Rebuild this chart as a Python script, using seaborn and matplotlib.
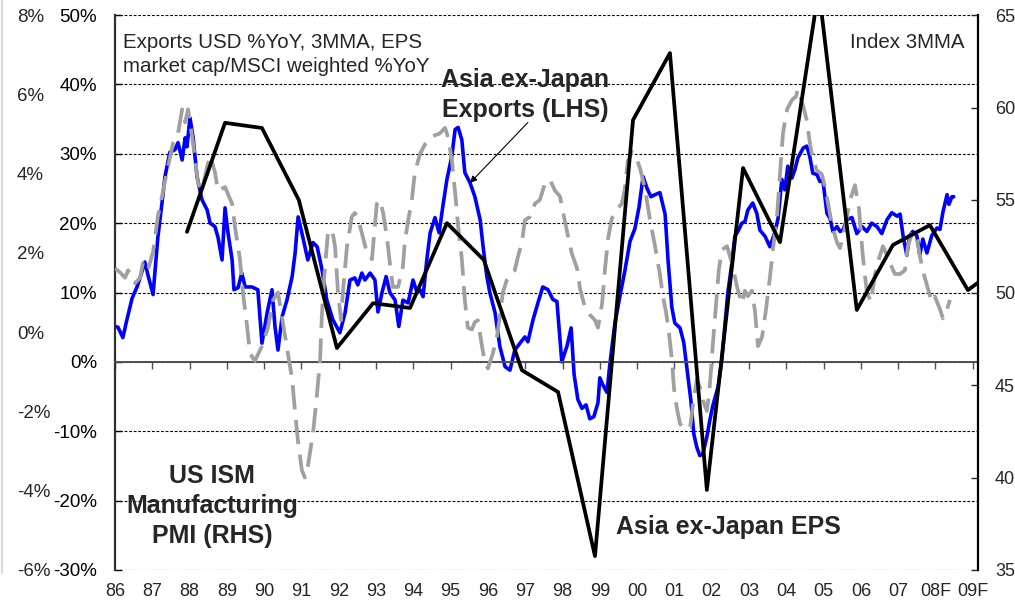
import matplotlib
matplotlib.use("Agg")
import matplotlib.pyplot as plt
import seaborn as sns
from matplotlib.ticker import FuncFormatter

# ---------------- data ----------------
# Asia ex-Japan exports, USD %YoY 3MMA (inner left axis)
exports_t = [1986.00, 1986.08, 1986.21, 1986.32, 1986.46, 1986.59, 1986.67, 1986.80, 1986.88, 1987.02,
             1987.15, 1987.26, 1987.34, 1987.47, 1987.61, 1987.69, 1987.80, 1987.88, 1987.93, 1988.01,
             1988.09, 1988.20, 1988.33, 1988.47, 1988.55, 1988.68, 1988.76, 1988.87, 1988.95, 1989.03,
             1989.14, 1989.19, 1989.30, 1989.40, 1989.49, 1989.67, 1989.83, 1989.94, 1990.08, 1990.21,
             1990.29, 1990.37, 1990.48, 1990.61, 1990.75, 1990.83, 1990.91, 1991.01, 1991.17, 1991.31,
             1991.42, 1991.55, 1991.68, 1991.84, 1992.03, 1992.17, 1992.30, 1992.43, 1992.51, 1992.62,
             1992.70, 1992.84, 1992.97, 1993.05, 1993.16, 1993.27, 1993.37, 1993.51, 1993.61, 1993.72,
             1993.86, 1993.99, 1994.10, 1994.18, 1994.26, 1994.36, 1994.45, 1994.58, 1994.69, 1994.79,
             1994.90, 1995.03, 1995.12, 1995.20, 1995.30, 1995.38, 1995.52, 1995.65, 1995.79, 1995.87,
             1995.97, 1996.05, 1996.19, 1996.32, 1996.46, 1996.59, 1996.72, 1996.86, 1996.99, 1997.07,
             1997.21, 1997.34, 1997.47, 1997.61, 1997.74, 1997.85, 1997.93, 1997.98, 1998.12, 1998.23,
             1998.31, 1998.41, 1998.52, 1998.63, 1998.73, 1998.84, 1998.95, 1999.00, 1999.08, 1999.19,
             1999.27, 1999.40, 1999.54, 1999.67, 1999.81, 1999.94, 2000.05, 2000.16, 2000.26, 2000.37,
             2000.48, 2000.61, 2000.75, 2000.83, 2000.93, 2001.01, 2001.15, 2001.25, 2001.36, 2001.44,
             2001.52, 2001.60, 2001.68, 2001.76, 2001.87, 2001.95, 2002.03, 2002.17, 2002.27, 2002.35,
             2002.43, 2002.54, 2002.62, 2002.70, 2002.81, 2002.89, 2002.97, 2003.10, 2003.21, 2003.29,
             2003.43, 2003.56, 2003.69, 2003.78, 2003.88, 2003.96, 2004.04, 2004.15, 2004.23, 2004.31,
             2004.45, 2004.55, 2004.63, 2004.71, 2004.82, 2004.90, 2004.98, 2005.09, 2005.17, 2005.25,
             2005.36, 2005.44, 2005.52, 2005.62, 2005.76, 2005.89, 2006.03, 2006.16, 2006.29, 2006.43,
             2006.56, 2006.70, 2006.83, 2006.97, 2007.05, 2007.13, 2007.23, 2007.31, 2007.39, 2007.50,
             2007.58, 2007.66, 2007.77, 2007.90, 2008.04, 2008.12, 2008.20, 2008.31, 2008.36, 2008.44,
             2008.49]
exports_v = [5.1, 5.0, 3.5, 6.1, 9.2, 10.8, 12.1, 14.4, 12.6, 9.7,
             18.0, 22.9, 26.7, 30.2, 30.6, 31.6, 29.1, 32.3, 31.0, 35.2,
             32.5, 26.7, 23.4, 21.9, 20.0, 19.5, 18.0, 14.7, 22.2, 18.6,
             14.7, 10.4, 10.7, 12.8, 10.8, 10.8, 10.4, 2.7, 7.1, 10.4,
             5.1, 1.7, 6.5, 8.9, 12.3, 15.7, 20.9, 18.6, 14.7, 17.2,
             16.6, 13.3, 8.9, 6.1, 4.2, 7.1, 11.8, 12.1, 11.1, 12.8,
             11.8, 12.8, 11.8, 7.2, 10.0, 12.3, 10.0, 8.9, 5.1, 8.9,
             8.5, 11.8, 10.0, 10.4, 9.4, 14.7, 18.6, 20.8, 18.6, 22.4,
             26.3, 29.6, 33.5, 33.8, 32.0, 27.3, 25.8, 23.8, 20.5, 16.6,
             12.3, 10.0, 7.1, 2.2, -0.7, -1.2, 1.7, 2.7, 3.6, 2.9,
             6.1, 8.5, 10.8, 10.4, 9.0, 8.7, 3.3, 0.0, 2.3, 4.9,
             -1.8, -5.4, -6.7, -6.2, -8.2, -7.9, -5.9, -2.3, -3.3, -4.4,
             -0.3, 5.4, 9.5, 13.1, 17.4, 19.2, 22.3, 26.7, 25.1, 23.8,
             24.1, 24.4, 21.3, 14.6, 7.9, 5.6, 4.9, 2.8, -2.0, -5.5,
             -10.4, -12.3, -13.5, -13.3, -10.8, -8.4, -6.3, -3.6, 0.2, 5.1,
             9.9, 14.2, 18.1, 18.8, 20.0, 20.2, 21.9, 22.9, 21.4, 19.0,
             18.1, 16.6, 18.6, 20.7, 26.3, 24.8, 28.2, 26.5, 27.7, 29.4,
             30.8, 31.1, 29.6, 27.2, 27.0, 26.0, 26.2, 21.4, 20.7, 18.8,
             19.5, 18.8, 19.0, 20.5, 20.8, 18.5, 19.5, 18.8, 20.0, 19.5,
             18.5, 20.5, 21.5, 21.0, 21.3, 18.2, 15.4, 18.2, 18.8, 18.2,
             15.4, 17.7, 15.7, 18.2, 19.3, 19.1, 21.6, 24.1, 22.7, 23.8,
             23.8]

# US ISM manufacturing PMI, index 3MMA (right axis)
pmi_t = [1986.00, 1986.13, 1986.27, 1986.35, 1986.54, 1986.67, 1986.75, 1986.88, 1987.02, 1987.15,
         1987.29, 1987.42, 1987.56, 1987.69, 1987.80, 1987.88, 1987.96, 1988.09, 1988.23, 1988.33,
         1988.47, 1988.55, 1988.68, 1988.76, 1988.95, 1989.14, 1989.22, 1989.35, 1989.43, 1989.54,
         1989.62, 1989.75, 1989.94, 1990.10, 1990.24, 1990.37, 1990.50, 1990.64, 1990.75, 1990.83,
         1990.91, 1991.01, 1991.09, 1991.17, 1991.31, 1991.42, 1991.50, 1991.55, 1991.63, 1991.71,
         1991.82, 1991.90, 1991.98, 1992.06, 1992.11, 1992.22, 1992.35, 1992.43, 1992.51, 1992.62,
         1992.76, 1992.89, 1993.02, 1993.10, 1993.19, 1993.29, 1993.37, 1993.45, 1993.59, 1993.72,
         1993.77, 1993.86, 1993.96, 1994.04, 1994.18, 1994.31, 1994.45, 1994.58, 1994.71, 1994.85,
         1994.93, 1995.03, 1995.12, 1995.20, 1995.30, 1995.38, 1995.46, 1995.57, 1995.65, 1995.73,
         1995.84, 1995.92, 1996.00, 1996.13, 1996.24, 1996.32, 1996.40, 1996.51, 1996.64, 1996.72,
         1996.80, 1996.91, 1996.99, 1997.13, 1997.26, 1997.39, 1997.53, 1997.66, 1997.80, 1997.93,
         1998.01, 1998.12, 1998.25, 1998.39, 1998.47, 1998.60, 1998.73, 1998.87, 1998.95, 1999.06,
         1999.14, 1999.22, 1999.32, 1999.46, 1999.59, 1999.67, 1999.75, 1999.86, 1999.94, 2000.08,
         2000.21, 2000.34, 2000.48, 2000.61, 2000.69, 2000.77, 2000.85, 2000.93, 2000.99, 2001.07,
         2001.15, 2001.28, 2001.42, 2001.50, 2001.60, 2001.68, 2001.76, 2001.87, 2001.93, 2001.98,
         2002.03, 2002.09, 2002.14, 2002.19, 2002.27, 2002.41, 2002.54, 2002.68, 2002.81, 2002.89,
         2002.97, 2003.08, 2003.16, 2003.24, 2003.35, 2003.45, 2003.56, 2003.64, 2003.75, 2003.83,
         2003.91, 2004.02, 2004.15, 2004.26, 2004.31, 2004.45, 2004.55, 2004.63, 2004.71, 2004.82,
         2004.95, 2005.04, 2005.12, 2005.22, 2005.36, 2005.44, 2005.57, 2005.71, 2005.84, 2005.95,
         2006.05, 2006.16, 2006.27, 2006.38, 2006.48, 2006.59, 2006.70, 2006.80, 2006.91, 2007.05,
         2007.18, 2007.26, 2007.39, 2007.50, 2007.58, 2007.66, 2007.77, 2007.90, 2007.98, 2008.12,
         2008.20, 2008.31, 2008.39]
pmi_v = [51.3, 51.1, 50.8, 51.2, 50.5, 50.8, 51.6, 51.2, 52.2, 54.1,
         55.5, 56.8, 58.1, 58.6, 59.9, 59.2, 59.9, 58.1, 55.9, 55.5,
         56.8, 57.4, 56.5, 55.5, 55.7, 54.8, 53.5, 51.8, 50.0, 48.2,
         46.7, 46.3, 47.1, 48.1, 49.6, 50.0, 48.4, 46.7, 45.3, 43.5,
         41.9, 40.4, 40.0, 40.6, 42.4, 44.6, 46.4, 48.9, 51.4, 53.2,
         53.4, 52.5, 50.0, 48.5, 50.0, 52.5, 54.1, 54.3, 54.1, 53.2,
         52.1, 51.8, 54.8, 55.0, 54.3, 53.0, 51.6, 50.3, 50.3, 51.4,
         52.7, 53.9, 55.0, 56.5, 57.5, 58.0, 58.4, 58.5, 58.6, 58.9,
         58.4, 57.2, 55.4, 53.6, 51.8, 49.6, 48.1, 48.0, 48.4, 48.5,
         47.1, 46.2, 45.9, 46.7, 47.6, 48.7, 50.0, 50.7, 51.1, 51.2,
         51.9, 52.7, 53.9, 54.1, 54.8, 55.0, 55.9, 56.1, 55.5, 55.2,
         54.4, 53.3, 52.1, 51.3, 50.2, 49.2, 48.8, 48.5, 48.1, 49.4,
         51.3, 52.9, 54.0, 54.5, 54.8, 55.6, 57.1, 57.6, 57.5, 56.7,
         55.6, 54.0, 52.5, 51.0, 49.8, 49.0, 47.9, 46.4, 44.8, 43.7,
         42.9, 42.6, 42.7, 44.0, 45.3, 44.9, 44.2, 43.6, 44.5, 45.8,
         47.2, 48.7, 49.9, 51.2, 52.3, 52.5, 51.6, 50.3, 49.4, 50.1,
         49.8, 50.1, 49.0, 47.1, 47.6, 49.0, 50.8, 52.3, 54.1, 56.4,
         58.6, 59.9, 60.4, 60.6, 61.0, 60.1, 59.3, 58.1, 57.2, 56.6,
         56.4, 55.7, 54.8, 53.7, 52.7, 52.4, 53.5, 55.0, 55.8, 54.5,
         52.0, 50.0, 49.5, 51.0, 51.8, 52.5, 52.0, 51.5, 51.0, 51.0,
         51.2, 52.5, 53.3, 52.9, 52.0, 51.2, 50.4, 49.5, 49.8, 49.1,
         48.6, 49.1, 49.6]

# Asia ex-Japan EPS, annual points (far-left axis)
eps_t = [1987.93, 1988.95, 1989.94, 1990.93, 1991.95, 1992.92, 1993.91, 1994.90, 1995.89, 1996.91,
         1997.88, 1998.87, 1999.89, 2000.88, 2001.87, 2002.84, 2003.83, 2004.87, 2005.89, 2006.86,
         2007.85, 2008.87, 2009.86]
eps_v = [2.53, 5.28, 5.15, 3.33, -0.40, 0.73, 0.61, 2.75, 1.82, -0.96,
         -1.51, -5.65, 5.35, 7.04, -3.98, 4.14, 2.27, 8.66, 0.56, 2.20,
         2.70, 1.06, 1.75]

year_ticks = list(range(1986, 2010))
year_labels = ['86', '87', '88', '89', '90', '91', '92', '93', '94', '95', '96', '97',
               '98', '99', '00', '01', '02', '03', '04', '05', '06', '07', '08F', '09F']
exp_ticks = [-30, -20, -10, 0, 10, 20, 30, 40, 50]
eps_ticks = [-6, -4, -2, 0, 2, 4, 6, 8]
pmi_ticks = [35, 40, 45, 50, 55, 60, 65]

# ---------------- styling ----------------
sns.set_style("white")
plt.rcParams['font.family'] = ['Liberation Sans', 'DejaVu Sans']

W, H = 1015, 605
fig = plt.figure(figsize=(W / 100, H / 100), dpi=100)
ax = fig.add_axes([115 / W, 35 / H, 863 / W, 555 / H])
ax_pmi = ax.twinx()
ax_eps = ax.twinx()
ax_lab = ax.twiny()

pct = FuncFormatter(lambda v, p: f"{int(round(v))}%")

# exports (blue)
sns.lineplot(x=exports_t, y=exports_v, ax=ax, color='#0000FF', linewidth=2.6,
             estimator=None, sort=False)
# PMI (grey dashed)
sns.lineplot(x=pmi_t, y=pmi_v, ax=ax_pmi, color='#A0A0A0', linewidth=2.7,
             estimator=None, sort=False)
ax_pmi.lines[-1].set_dashes([6.5, 2.8])
# EPS (black)
sns.lineplot(x=eps_t, y=eps_v, ax=ax_eps, color='black', linewidth=2.7,
             estimator=None, sort=False)

xlim = (1986, 2009.14)
for a in (ax, ax_pmi, ax_eps, ax_lab):
    a.set_xlim(*xlim)
    a.set_xlabel('')
    a.set_ylabel('')

# main (exports) axis
ax.set_ylim(-30, 50)
ax.set_yticks(exp_ticks)
ax.yaxis.set_major_formatter(pct)
ax.tick_params(axis='y', direction='in', length=5, width=1, pad=13, labelsize=13.5,
               colors='black', left=True)
ax.grid(axis='y', color='black', linestyle=(0, (2.5, 1.6)), linewidth=0.8)
ax.grid(axis='x', visible=False)
ax.set_xticks(year_ticks)
ax.tick_params(axis='x', direction='out', length=5, width=1, color='#505050',
               labelbottom=False, bottom=True)
ax.spines['bottom'].set_position(('data', 0))
ax.spines['bottom'].set_color('#505050')
ax.spines['bottom'].set_linewidth(1.4)
ax.spines['left'].set_color('#303030')
ax.spines['left'].set_linewidth(1.6)
ax.spines['top'].set_visible(False)
ax.spines['right'].set_visible(False)

# PMI axis (right)
ax_pmi.set_ylim(35, 65)
ax_pmi.set_yticks(pmi_ticks)
ax_pmi.tick_params(axis='y', direction='in', length=5, width=1, pad=12.3, labelsize=13,
                   right=True)
ax_pmi.grid(False)
for s in ('top', 'bottom', 'left'):
    ax_pmi.spines[s].set_visible(False)
ax_pmi.spines['right'].set_color('black')
ax_pmi.spines['right'].set_linewidth(1.6)

# EPS axis (far left labels, left-aligned)
ax_eps.set_ylim(-6, 8)
ax_eps.set_yticks(eps_ticks)
ax_eps.yaxis.set_major_formatter(pct)
ax_eps.yaxis.tick_left()
ax_eps.tick_params(axis='y', length=0, pad=70.5, labelsize=13.5)
plt.setp(ax_eps.get_yticklabels(), ha='left')
ax_eps.grid(False)
for s in ax_eps.spines.values():
    s.set_visible(False)

# x labels along the bottom
ax_lab.set_xticks(year_ticks)
ax_lab.set_xticklabels(year_labels)
ax_lab.xaxis.set_ticks_position('bottom')
ax_lab.xaxis.set_label_position('bottom')
ax_lab.tick_params(axis='x', length=0, pad=9, labelsize=13)
ax_lab.grid(False)
for s in ax_lab.spines.values():
    s.set_visible(False)

# annotations
fig.text(123 / W, 1 - 33 / H, "Exports USD %YoY, 3MMA, EPS\nmarket cap/MSCI weighted %YoY",
         ha='left', va='top', fontsize=14.8, linespacing=1.3)
fig.text(965 / W, 1 - 42 / H, "Index 3MMA", ha='right', va='center', fontsize=14.8)
fig.text(525 / W, 1 - 95 / H, "Asia ex-Japan\nExports (LHS)", ha='center', va='center',
         fontsize=18, fontweight='bold', linespacing=1.35)
fig.text(212 / W, 1 - 506 / H, "US ISM\nManufacturing\nPMI (RHS)", ha='center', va='center',
         fontsize=18, fontweight='bold', linespacing=1.3)
fig.text(728 / W, 1 - 527 / H, "Asia ex-Japan EPS", ha='center', va='center',
         fontsize=18, fontweight='bold')
ax.annotate('', xy=(1995.52, 25.8), xytext=(1997.07, 34.5),
            arrowprops=dict(arrowstyle='-|>', color='black', lw=0.8, mutation_scale=10,
                            shrinkA=0, shrinkB=0))

fig.add_artist(plt.Line2D([0.002, 0.002], [35 / H - 0.005, 1.0], color='#d8d8d8', lw=1.5))

fig.savefig('out.png', dpi=100)
